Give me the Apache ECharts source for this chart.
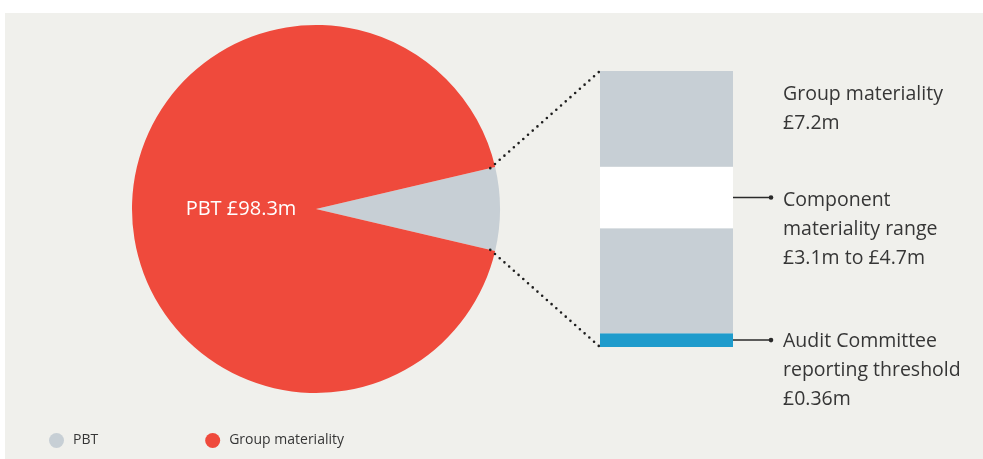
<!DOCTYPE html>
<html>
<head>
<meta charset="utf-8">
<script src="https://cdn.jsdelivr.net/npm/echarts@6/dist/echarts.min.js"></script>
<style>
  html, body { margin: 0; padding: 0; background: #ffffff; }
  #bg { position: absolute; left: 5px; top: 13px; width: 978px; height: 446px; background: #f0f0ec; }
  #main { position: absolute; left: 0; top: 0; width: 983px; height: 459px; }
</style>
</head>
<body>
<div id="bg"></div>
<div id="main"></div>
<script>
// pie: PBT total split into group materiality wedge and the rest
var pieNames = ['PBT', 'Group materiality'];
var pieValues = [7.2, 91.1];
var pieColors = ['#c7cfd5', '#ef4a3c'];
var pieLabel = 'PBT £98.3m';

// stacked column: band boundaries in £m, bottom to top
var bandTops = [0.36, 3.1, 4.7, 7.2];
var bandColors = ['#1e9bcc', '#c7cfd5', '#ffffff', '#c7cfd5'];

var notes = [
    'Group materiality\n£7.2m',
    'Component\nmateriality range\n£3.1m to £4.7m',
    'Audit Committee\nreporting threshold\n£0.36m'
];

var textColor = '#363636';
var font = '"Open Sans"';

var pieCenter = [316, 209];
var pieRadius = 184;
var half = pieValues[0] / (pieValues[0] + pieValues[1]) * 180;

var bandSeries = bandTops.map(function (top, i) {
    var prev = i === 0 ? 0 : bandTops[i - 1];
    return {
        type: 'bar',
        stack: 'col',
        barWidth: '100%',
        silent: true,
        itemStyle: { color: bandColors[i] },
        data: [+(top - prev).toFixed(2)]
    };
});

var myChart = echarts.init(document.getElementById('main'));

myChart.setOption({
    backgroundColor: 'transparent',
    animation: false,
    legend: {
        left: 44,
        top: 428,
        icon: 'circle',
        itemWidth: 23,
        itemHeight: 15,
        itemGap: 107,
        textStyle: { fontFamily: 'Open Sans', fontSize: 14, color: textColor },
        data: pieNames
    },
    grid: {
        left: 600,
        top: 71,
        width: 133,
        height: 276
    },
    xAxis: {
        type: 'category',
        data: ['col'],
        show: false
    },
    yAxis: {
        type: 'value',
        min: 0,
        max: 7.2,
        show: false
    },
    series: [{
        type: 'pie',
        center: pieCenter,
        radius: pieRadius,
        startAngle: half,
        clockwise: true,
        silent: true,
        label: { show: false },
        labelLine: { show: false },
        data: pieNames.map(function (n, i) {
            return { name: n, value: pieValues[i], itemStyle: { color: pieColors[i] } };
        })
    }].concat(bandSeries)
});

// annotations placed from the chart's own scales
var xL = 600, xR = 733;
var rangeY = myChart.convertToPixel({ yAxisIndex: 0 }, (bandTops[1] + bandTops[2]) / 2);
var threshY = myChart.convertToPixel({ yAxisIndex: 0 }, bandTops[0] / 2);
var topY = myChart.convertToPixel({ yAxisIndex: 0 }, bandTops[3]);
var baseY = myChart.convertToPixel({ yAxisIndex: 0 }, 0);

var rad = half * Math.PI / 180;
var rEdge = pieRadius - 5;
var pUp = [pieCenter[0] + rEdge * Math.cos(rad), pieCenter[1] - rEdge * Math.sin(rad)];
var pDn = [pieCenter[0] + rEdge * Math.cos(rad), pieCenter[1] + rEdge * Math.sin(rad)];

var dotStyle = { stroke: '#1e1e1e', lineWidth: 2.6, lineDash: [0, 6.3], lineCap: 'round', fill: null };
var noteStyle = { fill: textColor, font: '19.5px ' + font, lineHeight: 29, textVerticalAlign: 'top' };

function connector(y) {
    return [
        { type: 'line', z: 100, shape: { x1: xR, y1: y, x2: 770, y2: y }, style: { stroke: '#2a2a2a', lineWidth: 1.5 } },
        { type: 'circle', z: 100, shape: { cx: 771, cy: y, r: 2.3 }, style: { fill: '#2a2a2a' } }
    ];
}

myChart.setOption({
    graphic: [
        { type: 'polyline', z: 100, shape: { points: [pUp, [xL, topY]] }, style: dotStyle },
        { type: 'polyline', z: 100, shape: { points: [pDn, [xL, baseY]] }, style: dotStyle },
        { type: 'text', z: 100, x: pieCenter[0] - 75, y: pieCenter[1], style: {
            text: pieLabel, fill: '#ffffff', font: '20px ' + font, textAlign: 'center', textVerticalAlign: 'middle' } },
        { type: 'text', z: 100, x: 783, y: topY + 23 - 14.5, style: Object.assign({ text: notes[0] }, noteStyle) },
        { type: 'text', z: 100, x: 783, y: rangeY + 3 - 14.5, style: Object.assign({ text: notes[1] }, noteStyle) },
        { type: 'text', z: 100, x: 783, y: threshY + 1 - 14.5, style: Object.assign({ text: notes[2] }, noteStyle) }
    ].concat(connector(rangeY)).concat(connector(threshY))
});
</script>
</body>
</html>
